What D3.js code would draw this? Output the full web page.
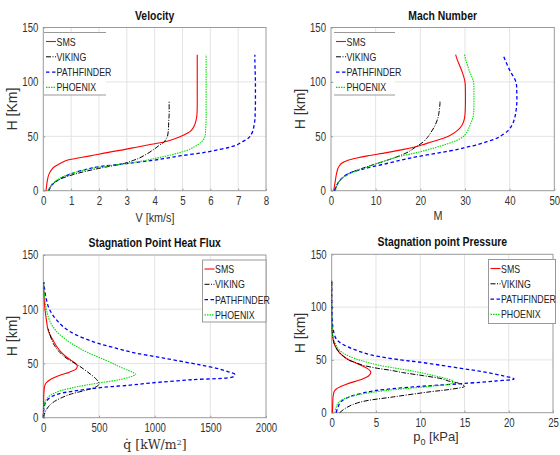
<!DOCTYPE html>
<meta charset="utf-8">
<style>
body { margin: 0; background: #fff; }
svg { font-family: "Liberation Sans Narrow", "Arial Narrow", "Liberation Sans", sans-serif; }
.grid line { stroke: #e3e3e3; stroke-width: 1; }
.axis path, .axis line { stroke: #9a9a9a; }
.axis text { fill: #333; font-size: 12px; }
.frame { fill: none; stroke: #9a9a9a; stroke-width: 1; }
.title { font-weight: bold; font-size: 13px; fill: #111; text-anchor: middle; }
.label { font-size: 13.5px; fill: #333; text-anchor: middle; }
.ylab { font-size: 14px; fill: #333; text-anchor: middle; }
.leg text { font-size: 11px; fill: #222; }
</style>
<svg width="560" height="455"></svg>
<script src="https://d3js.org/d3.v7.min.js"></script>
<script>

// altitude grids (km)
var hFull   = [0,5,10,15,20,22,25,28,30,32,35,38,40,42,45,48,50,55,60,65,70,80,90,100,110,120,125];
var hViking = [0,5,10,15,20,22,25,28,30,32,35,38,40,42,45,48,50,55,60,65,70,80,82];

var names = ["SMS", "VIKING", "PATHFINDER", "PHOENIX"];

// velocity [km/s]
var velSMS        = [0.1,0.12,0.15,0.2,0.32,0.4,0.6,0.85,1.25,1.68,2.28,2.95,3.35,3.75,4.37,4.75,4.95,5.3,5.43,5.49,5.52,5.53,5.53,5.53,5.53,5.53,5.53];
var velViking     = [0.2,0.3,0.55,1.1,1.9,2.3,2.9,3.25,3.45,3.6,3.8,3.97,4.08,4.18,4.35,4.42,4.46,4.49,4.5,4.51,4.52,4.52,4.52];
var velPathfinder = [0.18,0.3,0.55,0.95,1.6,2.0,3.0,3.95,4.45,4.9,5.75,6.35,6.7,6.95,7.15,7.35,7.43,7.53,7.57,7.6,7.61,7.62,7.62,7.62,7.61,7.6,7.6];
var velPhoenix    = [0.18,0.28,0.5,0.9,1.65,2.1,3.0,3.7,4.07,4.45,4.9,5.25,5.4,5.53,5.69,5.78,5.81,5.83,5.84,5.85,5.85,5.85,5.85,5.85,5.85,5.85,5.85];

// mach number
var machSMS        = [0.6,0.8,1.0,1.2,1.5,1.75,2.3,3.8,5.8,8.2,12.5,16.3,18.5,20.3,22.6,25.0,26.3,28.2,29.3,29.8,30.0,30.1,30.1,30.0,29.3,28.3,27.9];
var machViking     = [0.8,1.3,2.1,3.6,6.6,8.0,10.3,12.6,14.0,15.3,17.0,18.2,18.9,19.7,20.7,21.4,21.8,22.6,23.3,23.8,24.1,24.4,24.4];
var machPathfinder = [0.8,1.3,2.1,3.6,7.3,9.3,12.5,15.5,17.7,20.3,24.4,28.4,30.4,32.4,34.9,37.0,37.9,39.6,40.5,41.0,41.3,41.6,41.6,41.4,40.1,39.0,38.5];
var machPhoenix    = [1.0,1.4,2.1,3.9,6.9,8.3,10.3,12.5,14.0,15.8,19.2,22.0,23.7,25.3,27.4,29.0,29.7,30.6,31.1,31.6,31.9,32.0,32.0,31.9,31.0,30.2,29.9];

// stagnation point heat flux [kW/m2]
var heatSMS        = [0,1,2,3,4,5,7,10,15,25,60,120,175,235,295,305,290,220,165,125,95,45,28,15,8,4,3];
var heatViking     = [3,15,45,100,200,255,370,465,495,498,480,450,425,400,360,318,285,205,150,110,82,50,45];
var heatPathfinder = [0,2,8,25,85,140,300,540,780,960,1330,1710,1720,1670,1580,1440,1340,1080,810,620,450,230,120,55,25,10,5];
var heatPhoenix    = [0,2,5,15,55,85,160,280,380,500,680,790,830,800,730,665,625,515,400,310,230,115,55,28,12,5,3];

// stagnation point pressure [kPa]
var presSMS        = [0.08,0.1,0.12,0.15,0.28,0.45,1.1,2.0,2.8,3.5,4.2,4.42,4.3,4.0,3.3,2.5,1.95,1.1,0.6,0.3,0.15,0.04,0.01,0,0,0,0];
var presViking     = [0.9,1.7,3.2,7.0,11.3,13.3,15.0,14.3,13.2,12.5,10.4,8.0,6.8,5.2,3.5,2.5,1.9,1.1,0.6,0.3,0.15,0.04,0.03];
var presPathfinder = [0.5,0.7,1.0,2.0,4.3,6.0,10.2,15.5,18.5,20.6,19.3,17.6,16.2,14.6,12.3,9.8,7.8,4.3,2.5,1.2,0.5,0.15,0.05,0.02,0,0,0];
var presPhoenix    = [0.35,0.5,0.8,2.0,5.2,7.2,11.2,13.6,13.7,13.1,11.6,10.0,8.8,7.3,5.3,3.9,3.1,1.6,0.8,0.45,0.2,0.05,0.02,0.01,0,0,0];

var styles = [
  {color: "#ff0000", dash: null,  width: 1.1},
  {color: "#000000", dash: "5,1.5,1,1.5", width: 1},
  {color: "#0000ff", dash: "3.5,2.5", width: 1.3},
  {color: "#00e000", dash: "1.5,1", width: 1.1}
];

var svg = d3.select("svg");

function zipH(h, v) {
  return v.map(function(d, i) { return [d, h[i]]; });
}

function panel(p) {
  var x = d3.scaleLinear().domain(p.xdom).range([p.x0, p.x1]);
  var y = d3.scaleLinear().domain([0, 150]).range([p.y1, p.y0]);
  var g = svg.append("g");

  // grid
  g.append("g").attr("class", "grid")
    .selectAll("line").data(x.ticks(p.xticks).slice(1, -1)).enter().append("line")
      .attr("x1", x).attr("x2", x).attr("y1", p.y0).attr("y2", p.y1);
  g.append("g").attr("class", "grid")
    .selectAll("line").data([50, 100]).enter().append("line")
      .attr("y1", y).attr("y2", y).attr("x1", p.x0).attr("x2", p.x1);

  g.append("g").attr("class", "axis")
    .attr("transform", "translate(0," + p.y1 + ")")
    .call(d3.axisBottom(x).ticks(p.xticks).tickSize(-2).tickPadding(6).tickFormat(d3.format("d")));
  g.append("g").attr("class", "axis")
    .attr("transform", "translate(" + p.x0 + ",0)")
    .call(d3.axisLeft(y).tickValues([0, 50, 100, 150]).tickSize(-2).tickPadding(5));
  g.selectAll(".axis .domain").remove();

  g.append("rect").attr("class", "frame")
    .attr("x", p.x0).attr("y", p.y0).attr("width", p.x1 - p.x0).attr("height", p.y1 - p.y0);

  var line = d3.line()
    .x(function(d) { return x(d[0]); })
    .y(function(d) { return y(d[1]); })
    .curve(d3.curveCatmullRom);

  p.series.forEach(function(s, i) {
    g.append("path")
      .attr("d", line(zipH(s.h, s.v)))
      .attr("fill", "none")
      .attr("stroke", styles[i].color)
      .attr("stroke-width", styles[i].width)
      .attr("stroke-dasharray", styles[i].dash);
  });

  // title
  g.append("text").attr("class", "title squeeze")
    .attr("x", (p.x0 + p.x1) / 2).attr("y", p.y0 - 8).text(p.title);

  // legend
  var lg = g.append("g").attr("class", "leg");
  var L = p.leg;
  lg.append("rect").attr("x", L.x).attr("y", L.y).attr("width", L.w).attr("height", L.h)
    .attr("fill", "#fff").attr("stroke", L.box ? "#999" : "none");
  if (!L.box) {
    lg.append("line").attr("x1", L.x).attr("x2", L.x + L.w).attr("y1", L.y).attr("y2", L.y).attr("stroke", "#999");
    lg.append("line").attr("x1", L.x).attr("x2", L.x + L.w).attr("y1", L.y + L.h).attr("y2", L.y + L.h).attr("stroke", "#999");
  }
  names.forEach(function(n, i) {
    var yy = L.y + 9 + i * 15.3;
    lg.append("line")
      .attr("x1", L.x + 2).attr("x2", L.x + 12).attr("y1", yy).attr("y2", yy)
      .attr("stroke", styles[i].color).attr("stroke-width", styles[i].width)
      .attr("stroke-dasharray", styles[i].dash);
    lg.append("text").attr("class", "squeeze").attr("x", L.x + 12.5).attr("y", yy + 4).text(n);
  });
  g.selectAll(".axis text").classed("squeeze", true);
  return g;
}

panel({
  x0: 43.3, x1: 266, y0: 27.5, y1: 190.7, xdom: [0, 8], xticks: 8,
  title: "Velocity",
  leg: {x: 44, y: 32.5, w: 62, h: 62.5, box: false},
  series: [
    {h: hFull, v: velSMS}, {h: hViking, v: velViking},
    {h: hFull, v: velPathfinder}, {h: hFull, v: velPhoenix}
  ]
});

panel({
  x0: 331, x1: 554.3, y0: 27.5, y1: 190.7, xdom: [0, 50], xticks: 5,
  title: "Mach Number",
  leg: {x: 334, y: 32.5, w: 61, h: 62.5, box: false},
  series: [
    {h: hFull, v: machSMS}, {h: hViking, v: machViking},
    {h: hFull, v: machPathfinder}, {h: hFull, v: machPhoenix}
  ]
});

panel({
  x0: 43.3, x1: 266, y0: 255, y1: 417.7, xdom: [0, 2000], xticks: 4,
  title: "Stagnation Point Heat Flux",
  leg: {x: 202.5, y: 260, w: 63.5, h: 62, box: true},
  series: [
    {h: hFull, v: heatSMS}, {h: hViking, v: heatViking},
    {h: hFull, v: heatPathfinder}, {h: hFull, v: heatPhoenix}
  ]
});

panel({
  x0: 331.7, x1: 553, y0: 254.3, y1: 412.7, xdom: [0, 25], xticks: 5,
  title: "Stagnation point Pressure",
  leg: {x: 488.5, y: 259.5, w: 67, h: 64, box: true},
  series: [
    {h: hFull, v: presSMS}, {h: hViking, v: presViking},
    {h: hFull, v: presPathfinder}, {h: hFull, v: presPhoenix}
  ]
});

// axis titles
svg.append("text").attr("class", "label squeeze").attr("x", 155).attr("y", 222).text("V [km/s]");
svg.append("text").attr("class", "label squeeze").attr("x", 438).attr("y", 220).text("M");

var ylabs = [["H [Km]", 12, 109], ["H [km]", 300, 109], ["H [km]", 12, 336], ["H [km]", 300, 333]];
ylabs.forEach(function(d) {
  svg.append("text").attr("class", "ylab")
    .attr("transform", "translate(" + (d[1] + 5) + "," + d[2] + ") rotate(-90)")
    .text(d[0]);
});

// squeeze plain texts horizontally, like the narrow font of the original
svg.selectAll("text.squeeze").each(function() {
  var w = this.getComputedTextLength();
  this.setAttribute("textLength", (w * 0.8).toFixed(1));
  this.setAttribute("lengthAdjust", "spacingAndGlyphs");
});

var ql = svg.append("text").attr("class", "label")
  .attr("x", 155).attr("y", 449)
  .style("font-family", "'DejaVu Serif', 'Liberation Serif', serif").style("font-size", "12.5px");
ql.append("tspan").text("q\u0307 [kW/m");
ql.append("tspan").attr("dy", -4.5).style("font-size", "8px").text("2");
ql.append("tspan").attr("dy", 4.5).text("]");

var pl = svg.append("text").attr("class", "label").attr("x", 436).attr("y", 441).style("font-size", "13px");
pl.append("tspan").text("p");
pl.append("tspan").attr("dy", 4).style("font-size", "9px").text("0");
pl.append("tspan").attr("dy", -4).text(" [kPa]");

</script>
